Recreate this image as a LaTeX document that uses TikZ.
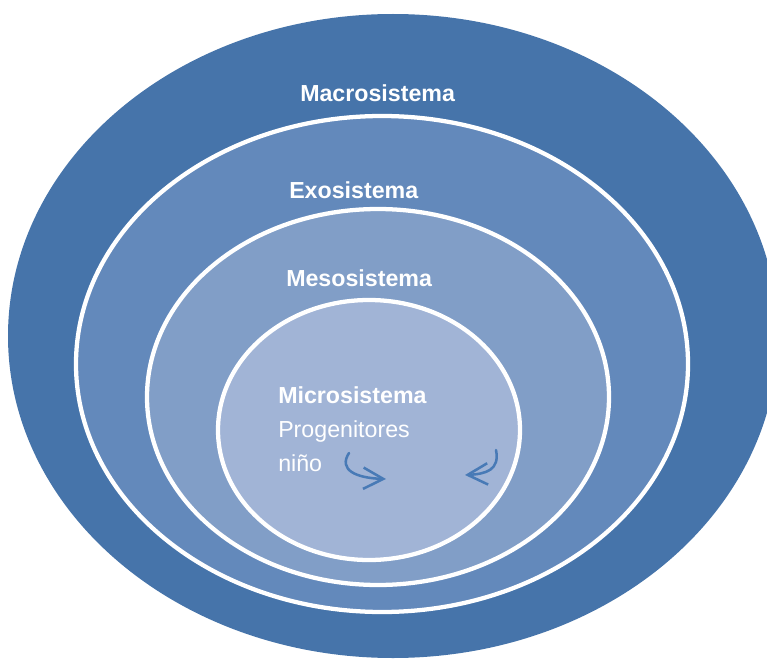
\documentclass[tikz,border=0pt]{standalone}
\usepackage{fontspec}
\setmainfont{Liberation Sans}
\usetikzlibrary{arrows.meta}
\definecolor{cmacro}{RGB}{70,116,170}
\definecolor{cexo}{RGB}{99,137,187}
\definecolor{cmeso}{RGB}{129,158,199}
\definecolor{cmicro}{RGB}{161,180,214}
\definecolor{carrow}{RGB}{72,122,182}
\tikzset{
  ring/.style={draw=white,line width=3.2pt},
  lbl/.style={anchor=base west,inner sep=0pt,text=white,font=\fontsize{17.4}{21}\selectfont},
  blbl/.style={lbl,font=\fontsize{17.4}{21}\selectfont\bfseries},
  curvarrow/.style={draw=carrow,line width=1.9pt,line cap=round,-{Straight Barb[length=15pt,width=16pt,line width=1.9pt]}}
}
\begin{document}
\begin{tikzpicture}[x=0.75pt,y=-0.75pt]
\useasboundingbox (0,0) rectangle (767,663);
\fill[cmacro] (393,336) ellipse [x radius=385,y radius=322];
\fill[cexo,ring] (382,364) ellipse [x radius=306,y radius=248];
\fill[cmeso,ring] (378,397) ellipse [x radius=231,y radius=188];
\fill[cmicro,ring] (369,430) ellipse [x radius=151,y radius=130];
\node[blbl] (macro) at (300,102) {Macrosistema};
\node[blbl] (exo) at (289,198) {Exosistema};
\node[blbl] (meso) at (286,286) {Mesosistema};
\node[blbl] (micro) at (278,403) {Microsistema};
\node[lbl] (prog) at (278,437) {Progenitores};
\node[lbl] (nino) at (278,471) {niño};
\coordinate (a1s) at (349,453);
\coordinate (a1e) at (386,479);
\coordinate (a2s) at (496,450);
\coordinate (a2e) at (465,475);
\draw[curvarrow] (a1s) .. controls (338,470) and (356,478) .. (a1e);
\draw[curvarrow] (a2s) .. controls (500,470) and (486,474) .. (a2e);
\end{tikzpicture}
\end{document}
